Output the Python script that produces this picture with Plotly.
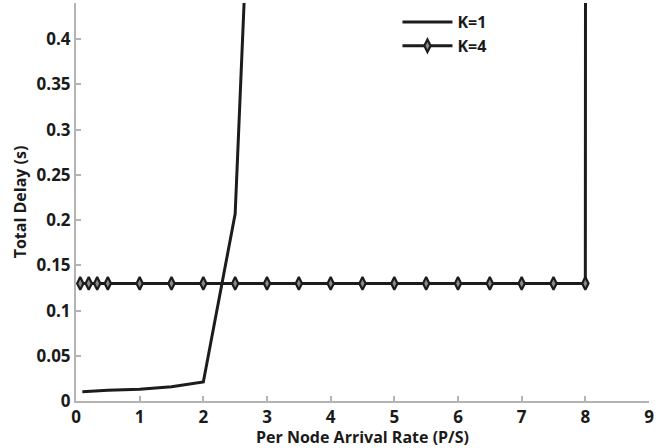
import plotly.graph_objects as go

# K=1 series
k1_x = [0.1, 0.2, 0.333, 0.5, 1.0, 1.5, 2.0, 2.5, 3.0]
k1_y = [0.0103, 0.0107, 0.0112, 0.0118, 0.0129, 0.0158, 0.021, 0.207, 1.04]

# K=4 series
k4_x = [0.0667, 0.2, 0.333, 0.5, 1.0, 1.5, 2.0, 2.5, 3.0, 3.5, 4.0, 4.5,
        5.0, 5.5, 6.0, 6.5, 7.0, 7.5, 8.0]
k4_y = [0.13] * 19
k4_tail_x = [8.0, 8.5]
k4_tail_y = [0.13, 60.0]

x_ticks = [0, 1, 2, 3, 4, 5, 6, 7, 8, 9]
y_ticks = [0, 0.05, 0.1, 0.15, 0.2, 0.25, 0.3, 0.35, 0.4]
y_tick_labels = ["0", "0.05", "0.1", "0.15", "0.2", "0.25", "0.3", "0.35", "0.4"]

line_color = "#1c1c1c"
axis_color = "#b4b4b4"
font_family = "Open Sans, Liberation Sans, sans-serif"

fig = go.Figure()
fig.add_trace(go.Scatter(
    x=k1_x, y=k1_y, mode="lines", name="K=1",
    line=dict(color=line_color, width=3),
))
fig.add_trace(go.Scatter(
    x=k4_tail_x, y=k4_tail_y, mode="lines", showlegend=False,
    line=dict(color=line_color, width=3), hoverinfo="skip",
))
fig.add_trace(go.Scatter(
    x=k4_x, y=k4_y, mode="lines+markers", name="K=4",
    line=dict(color=line_color, width=3),
    marker=dict(symbol="diamond-tall", size=9, color="#8a8a8a",
                line=dict(color=line_color, width=2.2)),
))

fig.update_layout(
    width=668, height=448,
    margin=dict(l=76, r=19, t=3, b=47),
    paper_bgcolor="white", plot_bgcolor="white",
    font=dict(family=font_family, size=17, color="#1a1a1a", weight="bold"),
    showlegend=True,
    legend=dict(x=0.561, y=0.995, xanchor="left", yanchor="top",
                bgcolor="rgba(0,0,0,0)", borderwidth=0, itemwidth=50,
                font=dict(size=16, weight="bold"), tracegroupgap=0),
)
fig.update_xaxes(
    range=[0, 9], tickvals=x_ticks, showgrid=False, zeroline=False,
    showline=True, linecolor=axis_color, linewidth=2, automargin=False,
    ticks="inside", ticklen=5, tickcolor=axis_color, tickwidth=1.5,
    title=dict(text="Per Node Arrival Rate (P/S)", standoff=4,
               font=dict(size=16, weight="bold")),
    tickfont=dict(size=17, weight="bold"),
)
fig.update_yaxes(
    range=[0, 0.44], tickvals=y_ticks, ticktext=y_tick_labels,
    showgrid=False, zeroline=False, automargin=False,
    showline=True, linecolor=axis_color, linewidth=2,
    ticks="inside", ticklen=5, tickcolor=axis_color, tickwidth=1.5,
    title=dict(text="Total Delay (s)", standoff=6,
               font=dict(size=16, weight="bold")),
    tickfont=dict(size=17, weight="bold"),
)

fig.write_html("out.html",
               config={"displayModeBar": False},
               post_script="document.body.style.margin='0';"
                           "document.body.style.overflow='hidden';")
